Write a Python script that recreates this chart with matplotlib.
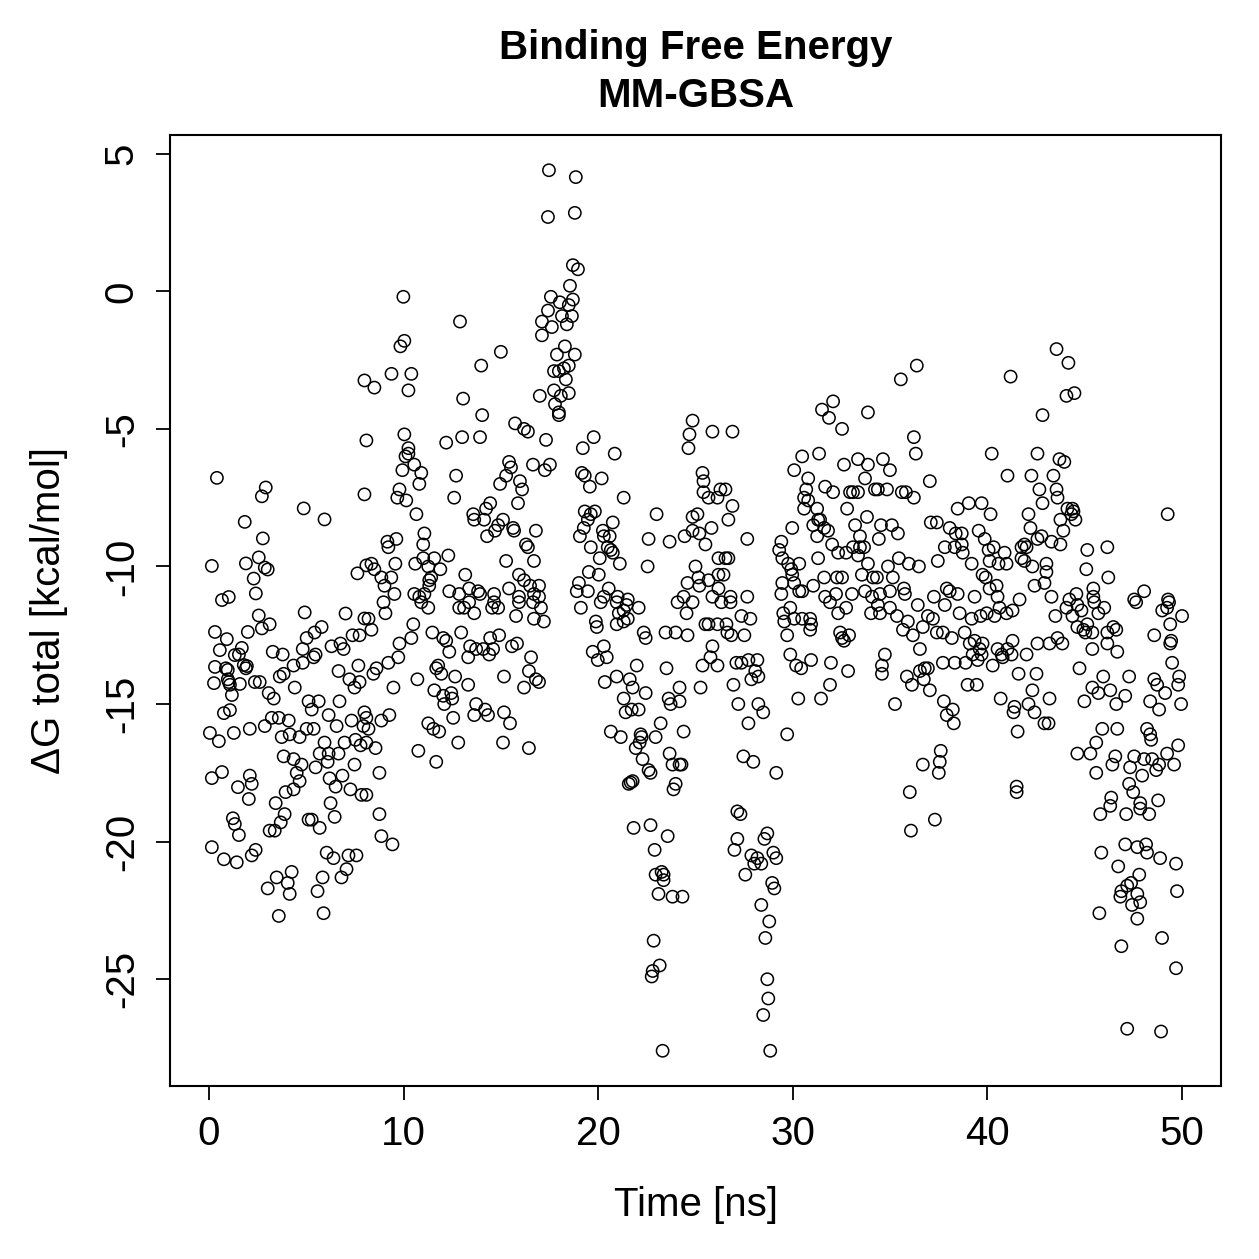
import matplotlib
matplotlib.use("Agg")
import matplotlib.pyplot as plt
import numpy as np

# (time [ns], dG total [kcal/mol]), grouped by time window
pts_00_08 = [
    (0.15, -9.98), (0.41, -6.78), (0.31, -12.38), (0.56, -13.04), (0.67, -11.22), (0.31, -13.65),
    (0.26, -14.24), (0.92, -12.64), (1.02, -11.11), (0.77, -15.33), (1.08, -15.22), (0.05, -16.05),
    (0.51, -16.35), (0.15, -17.69), (0.67, -17.47), (0.15, -20.2), (0.77, -20.64), (0.97, -13.76),
    (1.02, -14.2), (1.18, -14.67), (1.33, -13.22), (1.28, -16.05), (1.49, -18.02), (1.23, -19.15),
    (1.33, -19.36), (1.54, -19.76), (1.43, -20.75), (1.69, -12.96), (1.79, -13.58), (1.95, -13.62),
    (1.59, -14.27), (1.84, -8.38), (2.0, -12.38), (2.05, -18.45),
    (2.92, -7.13), (2.72, -7.45), (4.87, -7.89), (5.94, -8.29), (2.77, -8.98), (1.9, -9.89),
    (2.56, -9.67), (2.87, -10.04), (3.02, -10.11), (2.3, -10.44), (2.41, -10.98), (7.63, -10.25),
    (7.99, -3.24), (8.09, -5.42), (7.99, -7.38), (8.09, -9.96),
    (2.56, -11.78), (4.92, -11.67), (7.02, -11.71), (7.99, -11.89), (2.72, -12.25), (3.12, -12.1),
    (5.79, -12.2), (5.43, -12.4), (5.02, -12.6), (6.3, -12.9), (6.76, -12.8), (6.92, -13.0),
    (7.38, -12.5), (7.74, -12.5), (1.54, -13.2), (3.28, -13.1), (3.79, -13.2), (4.82, -13.0),
    (5.38, -13.3), (5.48, -13.2), (7.68, -13.6), (0.87, -13.7), (1.9, -13.7), (4.35, -13.6),
    (4.82, -13.5), (6.66, -13.8), (0.97, -14.1), (1.08, -14.3), (2.36, -14.2), (2.61, -14.2),
    (3.64, -14.0), (3.84, -13.9), (4.41, -14.4), (7.22, -14.1), (7.48, -14.4), (7.74, -14.2),
    (3.07, -14.6), (3.33, -14.8), (5.12, -14.9), (5.64, -14.9), (6.71, -14.9), (5.28, -15.2),
    (7.99, -15.3), (2.1, -15.9), (2.87, -15.8), (3.23, -15.5), (3.59, -15.5), (4.1, -15.6),
    (6.15, -15.4), (6.56, -15.8), (7.33, -15.6), (7.94, -15.8), (3.74, -16.2), (4.15, -16.1),
    (4.66, -16.2), (5.02, -15.9), (5.38, -15.9), (5.94, -16.4), (6.97, -16.4), (7.53, -16.3),
    (7.79, -16.5), (5.69, -16.8), (6.15, -16.8), (6.1, -17.1), (6.66, -16.8), (3.84, -16.9),
    (4.35, -17.0), (4.76, -17.2), (4.51, -17.5), (4.66, -17.8), (5.48, -17.3), (7.48, -17.2),
    (2.1, -17.6), (2.2, -17.9), (3.94, -18.2), (4.35, -18.1), (6.2, -17.7), (6.86, -17.6),
    (6.51, -18.0), (7.27, -18.1), (7.84, -18.3), (6.25, -18.6), (3.43, -18.6), (3.89, -19.0),
    (6.46, -19.1), (3.12, -19.6), (3.38, -19.6), (3.69, -19.3), (5.12, -19.2), (5.28, -19.2),
    (5.69, -19.5), (2.2, -20.5), (2.4, -20.3), (3.48, -21.3), (4.25, -21.1), (4.05, -21.5),
    (3.02, -21.7), (4.15, -21.9), (5.84, -21.3), (5.58, -21.8), (6.05, -20.4), (6.4, -20.6),
    (7.17, -20.5), (7.58, -20.5), (7.07, -21.0), (6.81, -21.3), (3.59, -22.7), (5.89, -22.6),
]

pts_08_17 = [
    (9.99, -0.2), (12.9, -1.1), (10.04, -1.8), (9.84, -2.0), (15.0, -2.2), (13.99, -2.7),
    (8.5, -3.5), (9.38, -3.0), (10.4, -3.0), (10.25, -3.6), (13.06, -3.9), (14.04, -4.5),
    (17.0, -3.8), (10.04, -5.2), (10.25, -5.7), (10.25, -5.9), (10.1, -6.0), (10.55, -6.3),
    (10.91, -6.6), (10.81, -7.0), (9.94, -6.5), (12.19, -5.5), (13.01, -5.3), (13.93, -5.3),
    (15.73, -4.8), (16.19, -5.0), (16.39, -5.1), (16.65, -6.3), (9.79, -7.2), (9.68, -7.5),
    (10.14, -7.6), (10.66, -8.1), (12.7, -6.7), (12.6, -7.5), (15.42, -6.2), (15.52, -6.4),
    (15.27, -6.7), (14.96, -7.0), (15.98, -6.9), (16.09, -7.2), (15.88, -7.7), (13.58, -8.1),
    (13.63, -8.3), (14.14, -8.3), (14.24, -7.9), (14.45, -7.7), (14.29, -8.9), (14.7, -8.7),
    (14.86, -8.5), (15.11, -8.3), (15.63, -8.6), (15.68, -8.7), (16.29, -9.2), (16.39, -9.3),
    (16.8, -8.7), (16.7, -9.8), (15.27, -9.8), (11.07, -8.8), (11.01, -9.2), (9.63, -9.0),
    (9.17, -9.1), (9.22, -9.3), (9.58, -9.9), (10.6, -9.9), (11.01, -9.7), (11.58, -9.7),
    (12.3, -9.6), (11.27, -10.0), (11.89, -10.1), (11.42, -10.4), (11.32, -10.5), (11.32, -10.7),
    (8.35, -9.9), (8.5, -10.1), (8.86, -10.4), (9.37, -10.4), (9.02, -10.7), (9.53, -11.0),
    (10.55, -11.0), (11.07, -11.0), (10.81, -11.1), (12.35, -10.9), (12.86, -11.0), (13.17, -10.3),
    (13.37, -10.8), (13.83, -10.9), (13.93, -11.0), (14.65, -11.0), (15.42, -10.8), (15.93, -10.3),
    (16.19, -10.5), (16.5, -10.7), (16.7, -11.0), (15.93, -11.1),
    (8.97, -11.3), (9.07, -11.7), (8.2, -11.9), (8.35, -12.3), (10.91, -11.3), (11.27, -11.5),
    (12.86, -11.5), (13.11, -11.5), (13.37, -11.3), (13.63, -11.7), (14.55, -11.5), (14.86, -11.5),
    (14.65, -11.3), (15.78, -11.8), (15.93, -11.3), (16.65, -11.3), (16.7, -11.9), (10.5, -12.1),
    (10.4, -12.6), (9.79, -12.8), (9.73, -13.3), (9.22, -13.5), (8.61, -13.7), (8.45, -13.9),
    (9.48, -14.4), (10.71, -14.1), (11.48, -12.4), (12.04, -12.6), (12.19, -12.7), (12.35, -13.1),
    (12.96, -12.4), (13.42, -12.9), (13.73, -13.0), (14.09, -13.0), (14.45, -12.6), (14.91, -12.5),
    (14.6, -13.0), (14.4, -13.2), (13.32, -13.3), (11.78, -13.6), (11.68, -13.7), (11.94, -13.9),
    (12.65, -14.0), (13.32, -14.3), (11.58, -14.5), (12.04, -14.7), (12.45, -14.6), (12.5, -14.8),
    (12.09, -15.0), (13.73, -15.0), (14.19, -15.2), (14.34, -15.4), (13.63, -15.4), (15.16, -15.3),
    (15.47, -15.7), (15.57, -12.9), (15.83, -12.8), (15.16, -14.0), (16.19, -14.4), (16.44, -13.8),
    (16.55, -13.3), (16.8, -14.1), (11.27, -15.7), (11.53, -15.9), (11.83, -16.0), (12.55, -15.5),
    (12.81, -16.4), (15.11, -16.4), (16.44, -16.6), (10.76, -16.7), (11.68, -17.1), (8.56, -16.6),
    (8.76, -17.5), (8.09, -18.3), (8.76, -19.0), (8.86, -19.8), (9.43, -20.1), (8.09, -15.5),
    (8.2, -15.9), (8.86, -15.6), (9.27, -15.4), (8.09, -16.4),
]

pts_17_25 = [
    (17.47, 4.4), (18.85, 4.15), (17.42, 2.7), (18.8, 2.85), (18.7, 0.95), (18.96, 0.8),
    (18.55, 0.2), (17.57, -0.2), (18.03, -0.4), (18.7, -0.3), (18.49, -0.5), (17.42, -0.7),
    (18.14, -0.9), (18.65, -0.9), (17.11, -1.1), (17.62, -1.3), (18.39, -1.2), (17.11, -1.6),
    (17.88, -2.3), (18.29, -2.0), (18.8, -2.3), (18.49, -2.7), (18.24, -2.8), (17.73, -2.9),
    (17.98, -2.9), (18.34, -3.2), (17.73, -3.6), (18.08, -3.8), (18.49, -3.7), (17.78, -4.1),
    (17.98, -4.4), (17.98, -4.5), (17.32, -5.4), (17.52, -6.3), (17.26, -6.5), (19.77, -5.3),
    (19.21, -5.7), (20.85, -5.9), (19.16, -6.6), (19.31, -6.7), (19.57, -7.1), (20.18, -6.8),
    (21.31, -7.5), (23.0, -8.1), (24.85, -4.7), (24.69, -5.2), (24.64, -5.7), (25.36, -6.6),
    (25.41, -6.9), (25.41, -7.3), (19.31, -8.0), (19.83, -8.0), (19.62, -8.1), (19.47, -8.3),
    (19.26, -8.6), (19.06, -8.9), (20.24, -8.7), (20.75, -8.4), (20.59, -8.9), (20.29, -8.9),
    (19.62, -9.3), (20.49, -9.3), (20.65, -9.4), (20.75, -9.5), (20.08, -9.7), (21.11, -9.9),
    (19.52, -10.2), (20.03, -10.3), (19.01, -10.6), (19.47, -10.9), (18.9, -10.9), (20.54, -10.8),
    (16.96, -10.7), (22.59, -9.0), (23.67, -9.1), (22.54, -10.0), (24.85, -8.2), (25.1, -8.1),
    (24.44, -8.9), (24.85, -8.7), (25.2, -8.8), (25.51, -9.2), (25.0, -10.0), (24.59, -10.6),
    (25.15, -10.4), (25.2, -10.7), (24.39, -11.1), (20.29, -11.1), (21.0, -11.1), (21.52, -11.2),
    (16.96, -11.1),
    (17.06, -11.5), (17.21, -12.0), (16.96, -14.2), (19.11, -11.5), (19.88, -12.0), (19.93, -12.2),
    (20.13, -11.3), (20.95, -11.3), (21.06, -11.7), (21.31, -11.6), (21.52, -11.9), (20.95, -12.1),
    (21.31, -12.0), (22.08, -11.5), (21.46, -11.4), (22.34, -12.4), (22.44, -12.6), (23.46, -12.4),
    (23.98, -12.4), (24.59, -12.5), (24.08, -11.3), (24.85, -11.3), (24.54, -11.7), (25.51, -12.1),
    (19.72, -13.1), (20.29, -12.9), (19.98, -13.4), (20.44, -13.3), (21.98, -13.6), (23.51, -13.7),
    (25.36, -13.6), (25.26, -14.4), (20.34, -14.2), (20.95, -14.0), (21.62, -14.1), (21.77, -14.4),
    (22.44, -14.6), (21.31, -14.8), (21.41, -15.3), (21.72, -15.2), (22.08, -15.2), (23.62, -14.8),
    (23.72, -15.0), (24.18, -14.9), (24.18, -14.4), (23.21, -15.7), (24.39, -16.0), (20.65, -16.0),
    (21.16, -16.2), (22.18, -16.1), (22.23, -16.2), (22.13, -16.4), (21.93, -16.6), (22.95, -16.2),
    (23.67, -16.8), (23.82, -17.2), (24.18, -17.2), (24.28, -17.2), (22.28, -17.0), (22.59, -17.4),
    (22.69, -17.5), (23.98, -17.9), (23.87, -18.1), (21.57, -17.9), (21.67, -17.85), (21.77, -17.8),
    (21.82, -19.5), (22.69, -19.4), (23.57, -19.8), (22.9, -20.3), (22.95, -21.2), (23.26, -21.1),
    (23.36, -21.2), (23.36, -21.4), (23.1, -21.9), (23.82, -22.0), (24.33, -22.0), (22.85, -23.6),
    (23.16, -24.5), (22.8, -24.7), (22.75, -24.9), (23.31, -27.6),
]

pts_25_34 = [
    (32.07, -4.0), (31.5, -4.3), (31.86, -4.6), (32.53, -5.0), (33.86, -4.4), (25.87, -5.1),
    (26.9, -5.1), (30.48, -6.0), (31.35, -5.9), (30.07, -6.5), (32.63, -6.3), (33.35, -6.1),
    (33.86, -6.3), (33.71, -6.8), (30.79, -6.8), (30.69, -7.2), (30.58, -7.5), (30.79, -7.6),
    (30.58, -7.9), (31.25, -7.9), (31.66, -7.1), (32.07, -7.3), (32.94, -7.3), (33.09, -7.3),
    (33.35, -7.3), (32.79, -7.9), (34.22, -7.2), (31.3, -8.3), (31.4, -8.3), (31.05, -8.5),
    (31.61, -8.6), (31.81, -8.7), (31.25, -8.9), (32.02, -9.2), (32.33, -9.5), (32.74, -9.5),
    (33.2, -8.5), (33.09, -9.3), (33.45, -9.3), (33.66, -9.3), (33.81, -8.2), (33.45, -8.9),
    (33.35, -9.6), (33.86, -9.9), (33.55, -10.3), (34.12, -10.4), (29.97, -8.6), (31.3, -9.7),
    (31.61, -10.4), (32.27, -10.4), (32.53, -10.4), (29.41, -9.1), (29.3, -9.4), (29.46, -9.7),
    (29.76, -9.9), (29.92, -10.1), (30.33, -9.9), (29.97, -10.3), (29.46, -10.6), (30.07, -10.6),
    (30.48, -10.9), (30.33, -10.9), (31.05, -10.7), (29.41, -11.0), (31.66, -11.1), (32.22, -11.0),
    (33.04, -11.0), (33.71, -10.9), (34.07, -11.1), (25.67, -7.5), (26.13, -7.5), (26.28, -7.2),
    (26.54, -7.2), (26.9, -7.8), (26.69, -8.3), (25.82, -8.6), (27.66, -9.0), (26.18, -9.7),
    (26.54, -9.7), (26.69, -9.7), (26.18, -10.3), (26.44, -10.3), (25.67, -10.5), (26.18, -10.8),
    (26.8, -11.1), (27.66, -11.1), (25.87, -11.1),
    (26.33, -11.3), (26.8, -11.3), (25.67, -12.1), (26.13, -12.1), (26.59, -12.1), (26.64, -12.4),
    (26.84, -12.5), (27.36, -11.8), (27.82, -11.9), (27.51, -12.5), (25.87, -12.9), (25.77, -13.3),
    (26.13, -13.6), (27.1, -13.5), (27.36, -13.5), (27.72, -13.4), (28.18, -13.4), (28.07, -13.8),
    (27.87, -14.1), (28.23, -14.0), (26.95, -14.3), (27.2, -15.0), (28.23, -15.0), (28.48, -15.3),
    (27.72, -15.7), (29.71, -16.1), (27.46, -16.9), (27.97, -17.1), (29.15, -17.5), (29.87, -11.5),
    (29.51, -11.7), (30.07, -11.9), (29.56, -12.0), (30.48, -11.9), (30.89, -11.9), (30.94, -12.1),
    (30.89, -12.3), (29.71, -12.5), (31.91, -11.3), (32.33, -11.7), (32.74, -11.5), (32.43, -12.4),
    (32.53, -12.6), (32.89, -12.5), (32.63, -12.7), (34.02, -11.7), (29.87, -13.2), (30.17, -13.6),
    (30.43, -13.7), (30.94, -13.4), (31.96, -13.5), (32.84, -13.8), (31.91, -14.3), (31.45, -14.8),
    (30.28, -14.8), (27.15, -18.9), (27.31, -19.0), (28.69, -19.7), (28.54, -19.9), (27.15, -19.9),
    (27.0, -20.3), (27.87, -20.5), (28.18, -20.6), (28.38, -20.8), (28.02, -20.8), (29.0, -20.4),
    (29.15, -20.6), (27.56, -21.2), (28.94, -21.5), (29.05, -21.7), (28.38, -22.3), (28.79, -22.9),
    (28.59, -23.5), (28.69, -25.0), (28.74, -25.7), (28.48, -26.3), (28.84, -27.6),
]

pts_34_43 = [
    (36.37, -2.7), (35.55, -3.2), (41.19, -3.1), (42.83, -4.5), (36.22, -5.3), (36.32, -5.9),
    (40.22, -5.9), (42.57, -5.9), (34.63, -6.1), (34.99, -6.5), (41.03, -6.7), (42.26, -6.7),
    (37.04, -6.9), (34.37, -7.2), (34.84, -7.2), (35.6, -7.3), (35.81, -7.3), (36.22, -7.5),
    (42.67, -7.2), (42.83, -7.7), (38.47, -7.9), (39.04, -7.7), (39.7, -7.7), (40.16, -8.1),
    (42.11, -8.1), (37.09, -8.4), (37.4, -8.4), (34.53, -8.5), (35.09, -8.5), (35.4, -8.8),
    (34.42, -9.0), (38.06, -8.6), (38.37, -8.8), (38.68, -8.8), (39.55, -8.7), (39.86, -9.0),
    (37.81, -9.3), (38.32, -9.3), (38.68, -9.2), (38.73, -9.5), (40.06, -9.4), (40.32, -9.3),
    (40.88, -9.5), (40.11, -9.8), (40.57, -9.9), (40.98, -9.9), (42.21, -8.6), (41.75, -9.3),
    (41.9, -9.2), (42.01, -9.3), (41.75, -9.7), (41.9, -9.8), (42.31, -10.0), (42.57, -9.0),
    (42.78, -8.9), (35.45, -9.7), (35.96, -9.9), (36.48, -10.0), (37.45, -9.8), (34.89, -10.0),
    (34.32, -10.4), (35.14, -10.4), (39.19, -9.9), (39.75, -10.3), (39.91, -10.4), (40.11, -10.8),
    (40.47, -10.7), (40.52, -11.1), (42.42, -10.7), (42.93, -10.6), (34.48, -11.0), (34.99, -10.9),
    (35.71, -10.8), (35.76, -11.0), (37.25, -11.1), (37.91, -10.8), (38.06, -10.9), (38.47, -11.0),
    (39.34, -11.1), (41.65, -11.2),
    (34.37, -11.4), (34.48, -11.7), (34.99, -11.5), (35.35, -11.8), (35.91, -12.0), (35.66, -12.3),
    (36.17, -12.5), (36.42, -11.4), (36.94, -11.8), (37.2, -11.9), (36.68, -12.2), (37.4, -12.4),
    (37.71, -12.4), (38.17, -12.6), (37.81, -11.4), (38.57, -11.7), (39.19, -11.9), (39.65, -11.8),
    (39.96, -11.7), (40.37, -11.8), (40.62, -11.5), (40.98, -11.7), (41.29, -11.6), (38.83, -12.4),
    (39.09, -12.8), (39.34, -12.7), (39.6, -13.0), (39.75, -12.8), (39.24, -13.2), (39.5, -13.4),
    (39.7, -13.2), (40.52, -13.0), (40.73, -13.2), (40.78, -13.3), (41.03, -13.0), (41.24, -13.2),
    (41.29, -12.7), (42.01, -13.2), (42.57, -12.8), (40.27, -13.6), (41.6, -13.9), (42.52, -13.9),
    (42.31, -14.5), (42.11, -15.0), (42.42, -15.3), (41.39, -15.1), (41.34, -15.3), (40.68, -14.8),
    (41.55, -16.0), (42.93, -15.7), (34.73, -13.2), (34.58, -13.6), (34.58, -13.9), (35.25, -15.0),
    (35.86, -14.0), (36.12, -14.3), (36.53, -13.8), (36.78, -13.7), (36.94, -13.7), (36.73, -14.1),
    (37.04, -14.5), (36.53, -13.0), (37.71, -13.5), (38.32, -13.5), (38.88, -13.5), (38.98, -14.3),
    (39.45, -14.3), (37.76, -14.9), (38.22, -15.2), (37.91, -15.4), (38.27, -15.7), (37.6, -16.7),
    (37.55, -17.1), (37.5, -17.5), (36.68, -17.2), (36.01, -18.2), (41.5, -18.0), (41.5, -18.2),
    (37.3, -19.2), (36.07, -19.6),
]

pts_43_50 = [
    (43.55, -2.1), (44.16, -2.6), (44.06, -3.8), (44.47, -3.7), (43.7, -6.1), (43.95, -6.2),
    (43.39, -6.7), (43.55, -7.2), (43.6, -7.5), (44.11, -7.9), (44.37, -7.9), (44.31, -8.1),
    (44.42, -8.0), (44.52, -8.3), (43.75, -8.3), (43.9, -8.7), (43.29, -9.1), (43.75, -9.2),
    (49.26, -8.1), (45.13, -9.4), (46.16, -9.3), (45.08, -10.1), (46.21, -10.4), (43.03, -9.9),
    (43.03, -10.2), (43.29, -11.1), (44.57, -11.0), (45.44, -10.8), (45.44, -11.1), (44.21, -11.2),
    (48.05, -10.9), (47.54, -11.2), (49.28, -11.2),
    (44.06, -11.5), (44.62, -11.4), (44.83, -11.6), (45.49, -11.3), (46.0, -11.5), (45.7, -11.7),
    (43.49, -11.8), (44.37, -11.8), (44.62, -12.2), (44.93, -12.3), (45.13, -12.1), (45.03, -12.4),
    (45.39, -12.4), (46.16, -12.4), (46.47, -12.2), (46.62, -12.3), (46.16, -12.8), (46.67, -13.1),
    (45.39, -13.0), (43.19, -12.8), (43.6, -12.6), (43.85, -12.8), (47.64, -11.3), (48.98, -11.6),
    (49.23, -11.5), (49.33, -11.3), (50.0, -11.8), (49.39, -12.1), (48.57, -12.5), (49.44, -12.7),
    (49.39, -12.8), (49.49, -13.5), (49.85, -14.0), (49.8, -14.3), (49.95, -15.0), (48.57, -14.1),
    (48.72, -14.3), (49.13, -14.6), (48.36, -14.9), (48.82, -15.2), (44.73, -13.7), (45.95, -14.0),
    (47.28, -14.0), (45.39, -14.4), (45.7, -14.6), (46.31, -14.5), (44.98, -14.9), (46.62, -15.0),
    (47.08, -14.7), (43.19, -14.8), (43.14, -15.7), (45.9, -15.9), (46.67, -15.9), (45.59, -16.4),
    (45.29, -16.8), (44.62, -16.8), (48.2, -15.9), (48.36, -16.1), (48.41, -16.3), (49.8, -16.5),
    (49.23, -16.8), (49.59, -17.2), (47.54, -16.9), (48.05, -17.0), (48.46, -17.0), (48.82, -17.2),
    (48.67, -17.4), (46.57, -16.9), (46.42, -17.2), (47.33, -17.3), (47.95, -17.6), (45.59, -17.5),
    (47.28, -17.9), (47.49, -18.2), (46.36, -18.4), (46.31, -18.7), (45.8, -19.0), (47.13, -19.0),
    (47.85, -18.6), (47.85, -18.8), (48.31, -19.0), (48.77, -18.5), (45.85, -20.4), (47.08, -20.1),
    (47.7, -20.2), (48.15, -20.1), (48.2, -20.4), (48.87, -20.6), (49.69, -20.8), (46.72, -20.9),
    (47.8, -21.2), (47.38, -21.5), (47.18, -21.6), (46.88, -21.8), (46.83, -22.0), (47.7, -21.9),
    (47.43, -22.3), (47.85, -22.2), (47.7, -22.8), (45.75, -22.6), (46.88, -23.8), (48.97, -23.5),
    (49.69, -24.6), (47.18, -26.8), (48.92, -26.9), (49.74, -21.8),
]

x_ticks = [0, 10, 20, 30, 40, 50]
y_ticks = [5, 0, -5, -10, -15, -20, -25]

all_pts = np.array(pts_00_08 + pts_08_17 + pts_17_25 + pts_25_34 + pts_34_43 + pts_43_50)
time_ns, dg_total = all_pts[:, 0], all_pts[:, 1]

plt.rcParams['font.family'] = ['Liberation Sans', 'DejaVu Sans']
plt.rcParams['axes.unicode_minus'] = False
fs = 29

fig = plt.figure(figsize=(12.59, 12.59), dpi=100)
ax = fig.add_axes([170 / 1259, 1 - 1086 / 1259, 1051 / 1259, 951 / 1259])

ax.scatter(time_ns, dg_total, s=78, facecolors='none', edgecolors='black', linewidths=1.1)

# R-style 4% padding around the data range
xr = (0, 50)
yr = (dg_total.min(), dg_total.max())
ax.set_xlim(xr[0] - 0.04 * (xr[1] - xr[0]), xr[1] + 0.04 * (xr[1] - xr[0]))
ax.set_ylim(yr[0] - 0.04 * (yr[1] - yr[0]), yr[1] + 0.04 * (yr[1] - yr[0]))

ax.set_xticks(x_ticks)
ax.set_yticks(y_ticks)
ax.tick_params(direction='out', length=10, width=1.3, labelsize=fs)
ax.tick_params(axis='x', pad=11)
ax.tick_params(axis='y', pad=11, labelrotation=90)
for lab in ax.get_yticklabels():
    lab.set_va('center')
for sp in ax.spines.values():
    sp.set_linewidth(1.5)

ax.set_xlabel('Time [ns]', fontsize=fs, labelpad=24)
ax.set_ylabel('ΔG total [kcal/mol]', fontsize=fs, labelpad=25)
ax.set_title('Binding Free Energy\nMM-GBSA', fontsize=fs, fontweight='bold',
             pad=20, linespacing=1.35)

fig.savefig('out.png', dpi=100)
